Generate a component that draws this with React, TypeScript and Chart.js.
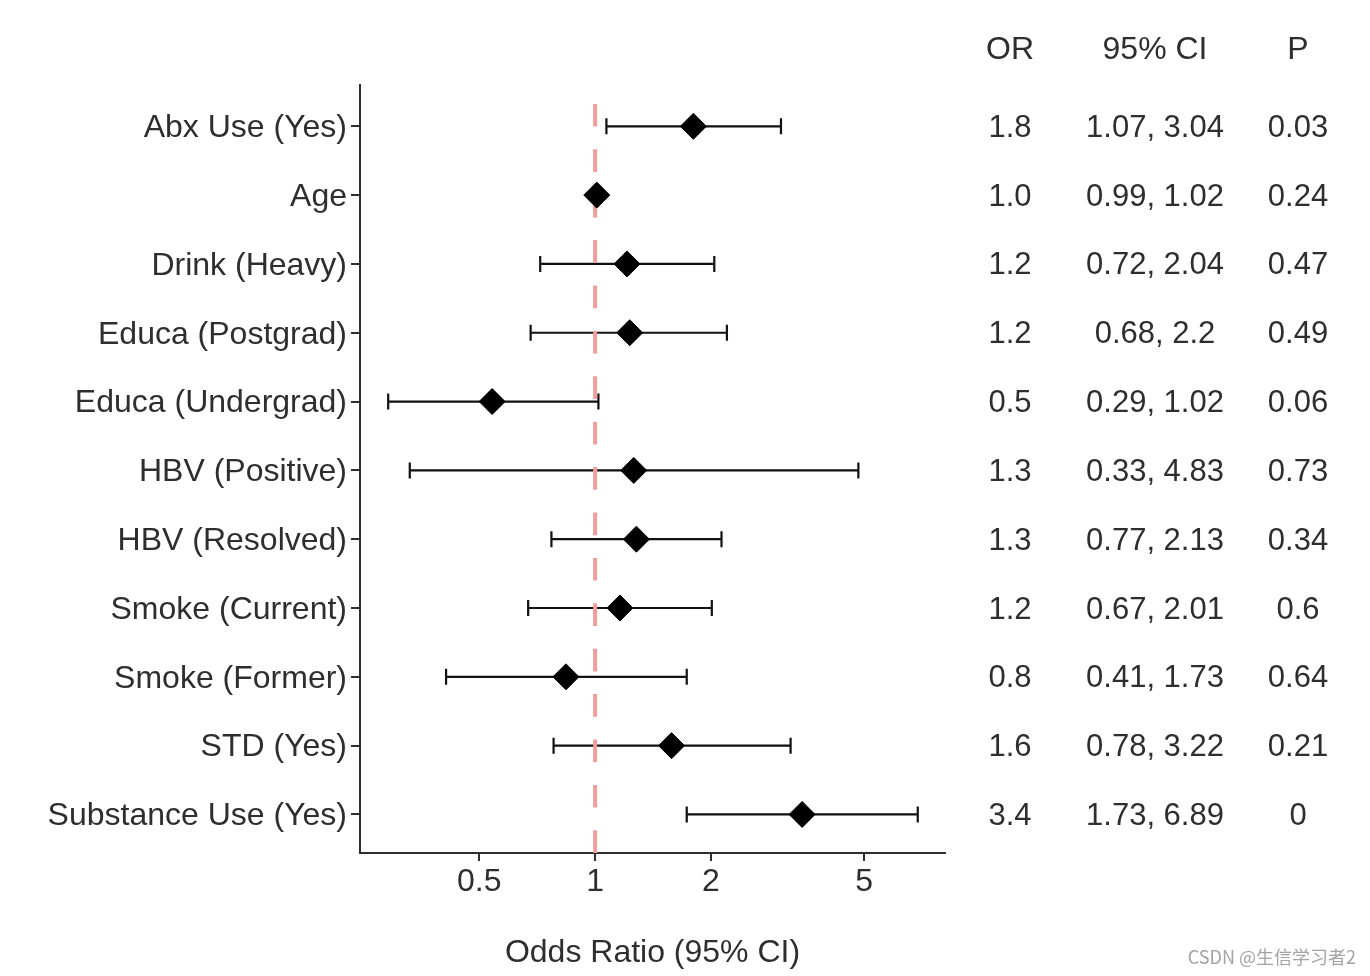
import React, { useEffect, useRef } from "react";
import { Chart, registerables } from "chart.js";

Chart.register(...registerables);

const categories = [
  "Abx Use (Yes)",
  "Age",
  "Drink (Heavy)",
  "Educa (Postgrad)",
  "Educa (Undergrad)",
  "HBV (Positive)",
  "HBV (Resolved)",
  "Smoke (Current)",
  "Smoke (Former)",
  "STD (Yes)",
  "Substance Use (Yes)",
];
const oddsRatio = [1.8, 1.01, 1.21, 1.23, 0.54, 1.26, 1.28, 1.16, 0.84, 1.58, 3.45];
const lowerCI = [1.07, 0.99, 0.72, 0.68, 0.29, 0.33, 0.77, 0.67, 0.41, 0.78, 1.73];
const upperCI = [3.04, 1.02, 2.04, 2.2, 1.02, 4.83, 2.13, 2.01, 1.73, 3.22, 6.89];
const orLabels = ["1.8", "1.0", "1.2", "1.2", "0.5", "1.3", "1.3", "1.2", "0.8", "1.6", "3.4"];
const ciLabels = [
  "1.07, 3.04",
  "0.99, 1.02",
  "0.72, 2.04",
  "0.68, 2.2",
  "0.29, 1.02",
  "0.33, 4.83",
  "0.77, 2.13",
  "0.67, 2.01",
  "0.41, 1.73",
  "0.78, 3.22",
  "1.73, 6.89",
];
const pLabels = ["0.03", "0.24", "0.47", "0.49", "0.06", "0.73", "0.34", "0.6", "0.64", "0.21", "0"];
const tableHeaders = ["OR", "95% CI", "P"];
const xTicks = [0.5, 1, 2, 5];
const referenceValue = 1;
const xAxisTitle = "Odds Ratio (95% CI)";
const watermark = "CSDN @生信学习者2";

const FONT = '"Liberation Sans", Arial, sans-serif';
const TEXT = "#2e2e2e";

export default function App() {
  const canvasRef = useRef<HTMLCanvasElement | null>(null);

  useEffect(() => {
    document.body.style.margin = "0";
    const canvas = canvasRef.current;
    if (!canvas) return;

    const errorBarPlugin = {
      id: "errorBars",
      beforeDatasetsDraw(chart: any) {
        const { ctx, scales } = chart;
        const xs = scales.x;
        const ys = scales.y;
        ctx.save();
        ctx.strokeStyle = "#111111";
        ctx.lineWidth = 2.2;
        for (let i = 0; i < categories.length; i++) {
          const y = ys.getPixelForValue(i);
          const x0 = xs.getPixelForValue(lowerCI[i]);
          const x1 = xs.getPixelForValue(upperCI[i]);
          ctx.beginPath();
          ctx.moveTo(x0, y);
          ctx.lineTo(x1, y);
          ctx.moveTo(x0, y - 8);
          ctx.lineTo(x0, y + 8);
          ctx.moveTo(x1, y - 8);
          ctx.lineTo(x1, y + 8);
          ctx.stroke();
        }
        ctx.restore();
      },
    };

    const tablePlugin = {
      id: "table",
      afterDraw(chart: any) {
        const { ctx, scales } = chart;
        const ys = scales.y;
        const cols = [1010, 1155, 1298];
        ctx.save();
        ctx.font = `32px ${FONT}`;
        ctx.fillStyle = TEXT;
        ctx.textAlign = "center";
        ctx.textBaseline = "middle";
        tableHeaders.forEach((h, j) => ctx.fillText(h, cols[j], 50));
        ctx.font = `31px ${FONT}`;
        for (let i = 0; i < categories.length; i++) {
          const y = ys.getPixelForValue(i) + 2;
          ctx.fillText(orLabels[i], cols[0], y);
          ctx.fillText(ciLabels[i], cols[1], y);
          ctx.fillText(pLabels[i], cols[2], y);
        }
        ctx.font = '18px "Noto Sans CJK SC", sans-serif';
        ctx.fillStyle = "#a3a3a3";
        ctx.textAlign = "right";
        ctx.fillText(watermark, 1356, 957);
        ctx.restore();
      },
    };

    const chart = new Chart(canvas, {
      type: "scatter",
      data: {
        datasets: [
          {
            label: "OR",
            data: categories.map((_, i) => ({ x: oddsRatio[i], y: i })),
            pointStyle: "rectRot",
            pointRadius: 13,
            pointHoverRadius: 13,
            backgroundColor: "#000000",
            borderColor: "#000000",
            borderWidth: 1,
          },
          {
            type: "line",
            label: "ref",
            data: [
              { x: referenceValue, y: categories.length - 0.44 },
              { x: referenceValue, y: -0.6 },
            ],
            borderColor: "#f39c9c",
            borderWidth: 4,
            borderDash: [22.7, 22.7],
            pointRadius: 0,
            showLine: true,
            fill: false,
          } as any,
        ],
      },
      options: {
        responsive: false,
        devicePixelRatio: 1,
        animation: false,
        layout: { padding: { top: 85, right: 425, left: 0, bottom: 0 } },
        plugins: {
          legend: { display: false },
          tooltip: { enabled: false },
        },
        scales: {
          x: {
            type: "logarithmic",
            min: 0.245,
            max: 8.11,
            afterBuildTicks: (scale: any) => {
              scale.ticks = xTicks.map((v) => ({ value: v }));
            },
            afterFit: (scale: any) => {
              scale.height = 123;
            },
            ticks: {
              autoSkip: false,
              maxRotation: 0,
              padding: 2,
              color: TEXT,
              font: { family: FONT, size: 32 },
              callback: (v: any) => String(v),
            },
            grid: {
              drawOnChartArea: false,
              drawTicks: true,
              tickLength: 8,
              tickColor: TEXT,
              lineWidth: 2,
            },
            border: { display: true, color: TEXT, width: 2 },
            title: {
              display: true,
              text: xAxisTitle,
              color: TEXT,
              font: { family: FONT, size: 32 },
              padding: { top: 0, bottom: 4 },
            },
          },
          y: {
            type: "linear",
            reverse: true,
            min: -0.6,
            max: categories.length - 0.44,
            afterBuildTicks: (scale: any) => {
              scale.ticks = categories.map((_, i) => ({ value: i }));
            },
            afterFit: (scale: any) => {
              scale.width = 360;
            },
            ticks: {
              autoSkip: false,
              padding: 4,
              labelOffset: 2,
              color: TEXT,
              font: { family: FONT, size: 32 },
              callback: (v: any) => categories[v as number] ?? "",
            },
            grid: {
              drawOnChartArea: false,
              drawTicks: true,
              tickLength: 9,
              tickColor: TEXT,
              lineWidth: 2,
            },
            border: { display: true, color: TEXT, width: 2 },
          },
        },
      },
      plugins: [errorBarPlugin, tablePlugin],
    });

    return () => chart.destroy();
  }, []);

  return (
    <div style={{ width: 1370, height: 976, position: "relative", background: "#ffffff" }}>
      <canvas ref={canvasRef} width={1370} height={976} style={{ display: "block" }} />
    </div>
  );
}
